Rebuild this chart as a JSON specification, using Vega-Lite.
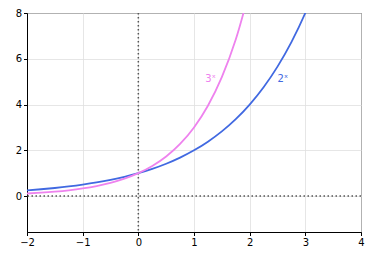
{
  "$schema": "https://vega.github.io/schema/vega-lite/v6.json",
  "width": 334,
  "height": 219,
  "autosize": {"type": "none"},
  "padding": {"left": 27, "top": 13, "right": 15, "bottom": 27},
  "background": "white",
  "config": {
    "font": "DejaVu Sans",
    "view": {"stroke": "black", "strokeWidth": 1},
    "axis": {
      "domainColor": "black",
      "tickColor": "black",
      "tickSize": 3.5,
      "labelFontSize": 10,
      "labelColor": "black",
      "labelFont": "DejaVu Sans",
      "labelPadding": 2,
      "labelFlush": false,
      "labelOverlap": false,
      "gridColor": "#e0e0e0",
      "gridWidth": 0.8,
      "title": null
    }
  },
  "layer": [
    {
      "data": {"values": [{"x": 0}]},
      "mark": {"type": "rule", "color": "#555", "strokeWidth": 1.5, "strokeDash": [1.5, 2.5]},
      "encoding": {"x": {"field": "x", "type": "quantitative", "scale": {"domain": [-2, 4], "nice": false}}}
    },
    {
      "data": {"values": [{"y": 0}]},
      "mark": {"type": "rule", "color": "#555", "strokeWidth": 1.5, "strokeDash": [1.5, 2.5]},
      "encoding": {"y": {"field": "y", "type": "quantitative", "scale": {"domain": [-1.57, 8], "nice": false}}}
    },
    {
      "data": {"values": [
        {"s": "2^x", "x": -2, "y": 0.25},
        {"s": "2^x", "x": -1.75, "y": 0.2973},
        {"s": "2^x", "x": -1.5, "y": 0.3536},
        {"s": "2^x", "x": -1.25, "y": 0.4204},
        {"s": "2^x", "x": -1, "y": 0.5},
        {"s": "2^x", "x": -0.75, "y": 0.5946},
        {"s": "2^x", "x": -0.5, "y": 0.7071},
        {"s": "2^x", "x": -0.25, "y": 0.8409},
        {"s": "2^x", "x": 0, "y": 1},
        {"s": "2^x", "x": 0.25, "y": 1.1892},
        {"s": "2^x", "x": 0.5, "y": 1.4142},
        {"s": "2^x", "x": 0.75, "y": 1.6818},
        {"s": "2^x", "x": 1, "y": 2},
        {"s": "2^x", "x": 1.25, "y": 2.3784},
        {"s": "2^x", "x": 1.5, "y": 2.8284},
        {"s": "2^x", "x": 1.75, "y": 3.3636},
        {"s": "2^x", "x": 2, "y": 4},
        {"s": "2^x", "x": 2.25, "y": 4.7568},
        {"s": "2^x", "x": 2.5, "y": 5.6569},
        {"s": "2^x", "x": 2.75, "y": 6.7272},
        {"s": "2^x", "x": 3, "y": 8},
        {"s": "2^x", "x": 3.25, "y": 9.5137},
        {"s": "3^x", "x": -2, "y": 0.1111},
        {"s": "3^x", "x": -1.75, "y": 0.1462},
        {"s": "3^x", "x": -1.5, "y": 0.1925},
        {"s": "3^x", "x": -1.25, "y": 0.2533},
        {"s": "3^x", "x": -1, "y": 0.3333},
        {"s": "3^x", "x": -0.75, "y": 0.4387},
        {"s": "3^x", "x": -0.5, "y": 0.5774},
        {"s": "3^x", "x": -0.25, "y": 0.7598},
        {"s": "3^x", "x": 0, "y": 1},
        {"s": "3^x", "x": 0.25, "y": 1.3161},
        {"s": "3^x", "x": 0.5, "y": 1.7321},
        {"s": "3^x", "x": 0.75, "y": 2.2795},
        {"s": "3^x", "x": 1, "y": 3},
        {"s": "3^x", "x": 1.25, "y": 3.9482},
        {"s": "3^x", "x": 1.5, "y": 5.1962},
        {"s": "3^x", "x": 1.75, "y": 6.8385},
        {"s": "3^x", "x": 2, "y": 9}
      ]},
      "mark": {"type": "line", "strokeWidth": 1.8, "interpolate": "monotone", "clip": true},
      "encoding": {
        "x": {"field": "x", "type": "quantitative", "scale": {"domain": [-2, 4], "nice": false},
              "axis": {"values": [-2, -1, 0, 1, 2, 3, 4], "format": "d"}},
        "y": {"field": "y", "type": "quantitative", "scale": {"domain": [-1.57, 8], "nice": false},
              "axis": {"values": [0, 2, 4, 6, 8], "format": "d"}},
        "color": {"field": "s", "type": "nominal", "legend": null,
                  "scale": {"domain": ["2^x", "3^x"], "range": ["#4169E1", "#EE82EE"]}}
      }
    },
    {
      "data": {"values": [
        {"s": "2^x", "label": "2ˣ", "x": 2.5, "y": 5},
        {"s": "3^x", "label": "3ˣ", "x": 1.2, "y": 5}
      ]},
      "mark": {"type": "text", "align": "left", "baseline": "alphabetic", "fontSize": 10, "font": "DejaVu Sans"},
      "encoding": {
        "x": {"field": "x", "type": "quantitative"},
        "y": {"field": "y", "type": "quantitative"},
        "text": {"field": "label"},
        "color": {"field": "s", "type": "nominal", "legend": null,
                  "scale": {"domain": ["2^x", "3^x"], "range": ["#4169E1", "#EE82EE"]}}
      }
    }
  ]
}
